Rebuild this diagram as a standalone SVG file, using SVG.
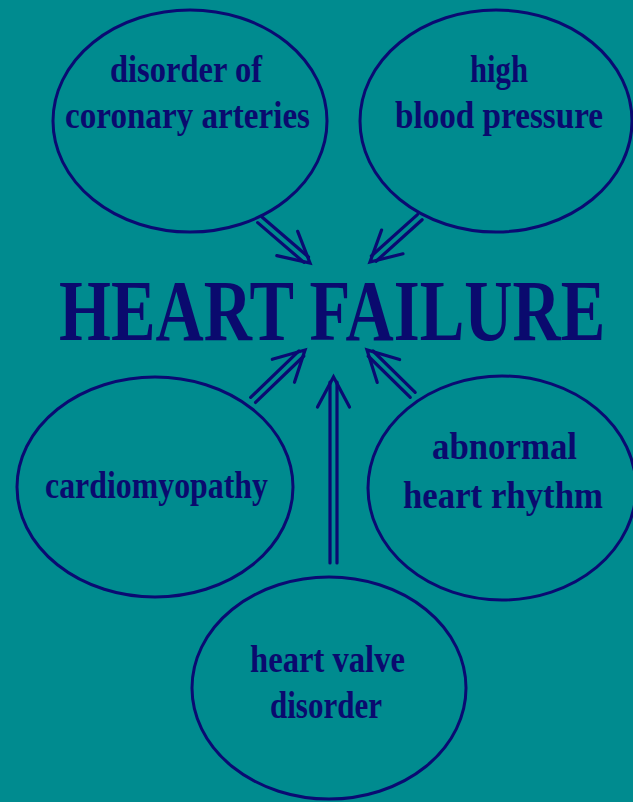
<svg xmlns="http://www.w3.org/2000/svg" width="633" height="802" viewBox="0 0 633 802">
<style>
.bg{fill:#008b8f}
.node ellipse{fill:none;stroke:#0a0a72;stroke-width:3}
.lbl{font-family:"Liberation Serif","Times New Roman",serif;font-size:38px;font-weight:bold;fill:#0a0a6e}
.title{font-family:"Liberation Serif","Times New Roman",serif;font-size:86px;font-weight:bold;fill:#0a0a6e}
.arr{fill:none;stroke:#0a0a72;stroke-width:3.2;stroke-linecap:round;stroke-linejoin:miter}
</style>
<defs>
<g id="head"><polyline points="-30,-16 0,0 -30,16"/></g>
</defs>
<rect class="bg" x="0" y="0" width="633" height="802"/>
<g id="title">
<text class="title" transform="translate(59,340) scale(0.765,1)" x="0" y="0" textLength="714" lengthAdjust="spacingAndGlyphs">HEART FAILURE</text>
</g>
<g id="connectors" class="arr">
<g transform="translate(310,263) rotate(40.7)">
<line x1="-66" y1="-3.5" x2="-5" y2="-3.5"/><line x1="-66" y1="3.5" x2="-5" y2="3.5"/><use href="#head"/>
</g>
<g transform="translate(370,262) rotate(138)">
<line x1="-67" y1="-3.5" x2="-5" y2="-3.5"/><line x1="-67" y1="3.5" x2="-5" y2="3.5"/><use href="#head"/>
</g>
<g transform="translate(305,350) rotate(-43.9)">
<line x1="-72" y1="-3.5" x2="-5" y2="-3.5"/><line x1="-72" y1="3.5" x2="-5" y2="3.5"/><use href="#head"/>
</g>
<g transform="translate(367,350) rotate(-135.6)">
<line x1="-64" y1="-3.5" x2="-5" y2="-3.5"/><line x1="-64" y1="3.5" x2="-5" y2="3.5"/><use href="#head"/>
</g>
<g transform="translate(333.5,377) rotate(-90)">
<line x1="-186" y1="-3.5" x2="-5" y2="-3.5"/><line x1="-186" y1="3.5" x2="-5" y2="3.5"/><use href="#head"/>
</g>
</g>
<g id="node-coronary" class="node">
<ellipse cx="190" cy="121" rx="137" ry="111"/>
<text class="lbl" x="110" y="82" textLength="152" lengthAdjust="spacingAndGlyphs">disorder of</text>
<text class="lbl" x="65" y="128" textLength="245" lengthAdjust="spacingAndGlyphs">coronary arteries</text>
</g>
<g id="node-bp" class="node">
<ellipse cx="496" cy="121" rx="136" ry="111"/>
<text class="lbl" x="470" y="82" textLength="58" lengthAdjust="spacingAndGlyphs">high</text>
<text class="lbl" x="395" y="128" textLength="208" lengthAdjust="spacingAndGlyphs">blood pressure</text>
</g>
<g id="node-cardio" class="node">
<ellipse cx="155" cy="487" rx="138" ry="110"/>
<text class="lbl" x="45" y="498" textLength="223" lengthAdjust="spacingAndGlyphs">cardiomyopathy</text>
</g>
<g id="node-rhythm" class="node">
<ellipse cx="502" cy="488" rx="134" ry="112"/>
<text class="lbl" x="432" y="459" textLength="145" lengthAdjust="spacingAndGlyphs">abnormal</text>
<text class="lbl" x="403" y="508" textLength="200" lengthAdjust="spacingAndGlyphs">heart rhythm</text>
</g>
<g id="node-valve" class="node">
<ellipse cx="329" cy="688" rx="137" ry="111"/>
<text class="lbl" x="250" y="672" textLength="155" lengthAdjust="spacingAndGlyphs">heart valve</text>
<text class="lbl" x="270" y="718" textLength="112" lengthAdjust="spacingAndGlyphs">disorder</text>
</g>
</svg>
